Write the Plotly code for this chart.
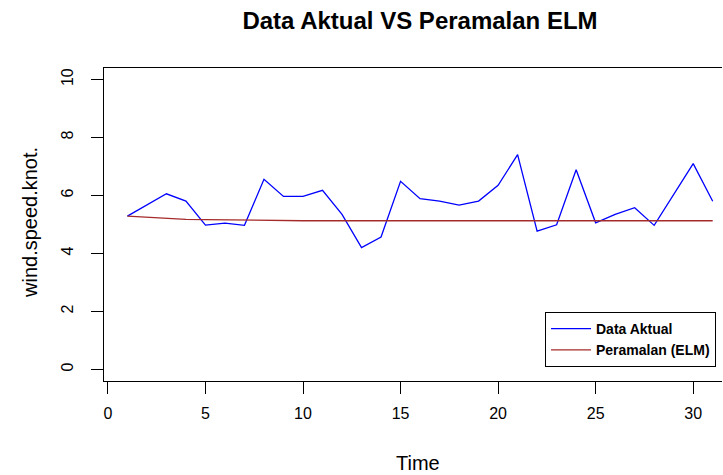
import plotly.graph_objects as go

# Observed wind speed (knots) and ELM forecast for 31 time steps
time = list(range(1, 32))
data_aktual = [5.29, 5.68, 6.06, 5.81, 4.98, 5.05, 4.97, 6.56, 5.97, 5.97,
               6.18, 5.35, 4.20, 4.57, 6.49, 5.89, 5.81, 5.67, 5.81, 6.35,
               7.41, 4.77, 4.99, 6.89, 5.06, 5.35, 5.58, 4.97, 6.04, 7.10,
               5.80]
peramalan_elm = [5.29, 5.25, 5.21, 5.18, 5.17, 5.16, 5.15, 5.13, 5.13, 5.13,
                 5.13, 5.13, 5.13, 5.13, 5.13, 5.13, 5.13, 5.13, 5.13, 5.13,
                 5.13, 5.13, 5.13, 5.13, 5.13, 5.13, 5.13, 5.13, 5.13, 5.13,
                 5.13]
x_ticks = [0, 5, 10, 15, 20, 25, 30]
y_ticks = [0, 2, 4, 6, 8, 10]

W, H = 723, 475
L, R, T, B = 104, 1, 68, 94
FONT = "Liberation Sans, Arial, sans-serif"

fig = go.Figure()
fig.add_trace(go.Scatter(x=time, y=data_aktual, mode="lines", name="Data Aktual",
                         line=dict(color="#0000FF", width=1.3)))
fig.add_trace(go.Scatter(x=time, y=peramalan_elm, mode="lines", name="Peramalan (ELM)",
                         line=dict(color="#A52A2A", width=1.3)))

plot_w = W - L - R
plot_h = H - T - B

fig.update_layout(
    width=W, height=H,
    margin=dict(l=L, r=R, t=T, b=B, autoexpand=False),
    paper_bgcolor="white", plot_bgcolor="white",
    font=dict(family=FONT, size=16, color="black"),
    title=dict(text="<b>Data Aktual VS Peramalan ELM</b>",
               font=dict(family=FONT, size=24, color="black"),
               xref="container", x=420 / W, xanchor="center",
               yref="container", y=1 - 21 / H, yanchor="middle"),
    showlegend=True,
    legend=dict(x=(545 - L) / plot_w, y=(H - B - 312) / plot_h,
                xanchor="left", yanchor="top",
                bordercolor="black", borderwidth=1, bgcolor="white",
                font=dict(family=FONT, size=14, color="black", weight="bold"),
                itemwidth=40, tracegroupgap=0),
    xaxis=dict(range=[-0.2, -0.2 + plot_w / 19.51], tickvals=x_ticks,
               showgrid=False, zeroline=False,
               showline=True, linecolor="black", linewidth=1, mirror=True,
               ticks="outside", ticklen=12, tickwidth=1, tickcolor="black",
               ticklabelstandoff=6,
               tickfont=dict(family=FONT, size=16, color="black")),
    yaxis=dict(range=[-0.4, 10.4], tickvals=y_ticks,
               showgrid=False, zeroline=False,
               showline=True, linecolor="black", linewidth=1,
               ticks="outside", ticklen=12, tickwidth=1, tickcolor="black",
               tickangle=-90, ticklabelstandoff=12,
               tickfont=dict(family=FONT, size=16, color="black")),
    annotations=[
        dict(text="Time", xref="paper", yref="paper",
             x=(418 - L) / plot_w, y=-(463 - (H - B)) / plot_h,
             xanchor="center", yanchor="middle", showarrow=False,
             font=dict(family=FONT, size=20, color="black")),
        dict(text="wind.speed.knot.", xref="paper", yref="paper",
             x=-(L - 30) / plot_w, y=(H - B - 223) / plot_h, textangle=-90,
             xanchor="center", yanchor="middle", showarrow=False,
             font=dict(family=FONT, size=20, color="black")),
    ],
)

fig.write_html("out.html")
